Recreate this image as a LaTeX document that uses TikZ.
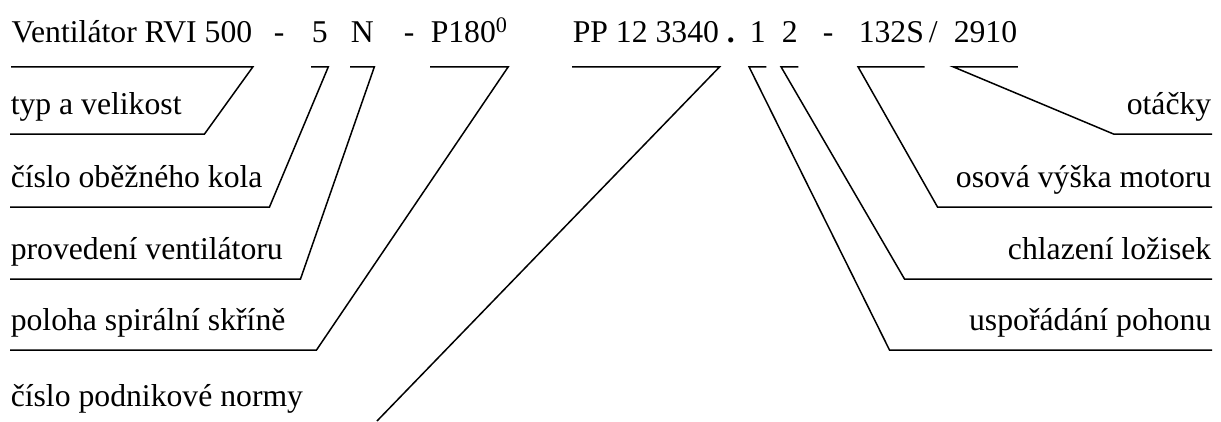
\documentclass[tikz,border=0pt]{standalone}
\usepackage{fontspec}
\setmainfont{Liberation Serif}
\begin{document}
\begin{tikzpicture}[x=1pt, y=-1pt, line width=1.5pt,
		every node/.style={font=\fontsize{31.7}{38}\selectfont},
		code/.style={anchor=base west, inner sep=0pt, text depth=24pt},
		leftLabel/.style={anchor=south west, inner sep=0pt, text depth=19pt, align=flush left},
		rightLabel/.style={anchor=south east, inner sep=0pt, text depth=19pt, align=flush right}]
		\useasboundingbox (0,0) rectangle (1221,421);

		% type code
		\node[code](vent) at (11,42){Ventilátor RVI 500};
		\node[code](dashA) at (273,42){-};
		\node[code](wheel) at (311,42){5};
		\node[code](design) at (350,42){N};
		\node[code](dashB) at (403,42){-};
		\node[code](casing) at (430,42){P180\textsuperscript{0}};
		\node[code](norm) at (572,42){PP 12 3340};
		\node[code](dot) at (726,42){\textbf{.}};
		\node[code](drive) at (749,42){1};
		\node[code](cooling) at (781,42){2};
		\node[code](dashC) at (822,42){-};
		\node[code](axis) at (858,42){132S};
		\node[code](slash) at (928,42){/};
		\node[code](speed) at (953,42){2910};

		% left labels
		\node[leftLabel, text width=193pt](typLbl) at (10,134){typ a velikost};
		\node[leftLabel, text width=258pt](wheelLbl) at (10,207){číslo oběžného kola};
		\node[leftLabel, text width=289pt](designLbl) at (10,279){provedení ventilátoru};
		\node[leftLabel, text width=305pt](casingLbl) at (10,350){poloha spirální skříně};
		\node[anchor=base west, inner sep=0pt](normLbl) at (10,406){číslo podnikové normy};
		\coordinate (normEnd) at (377,421);

		% right labels
		\node[rightLabel, text width=97pt](speedLbl) at (1212,134){otáčky};
		\node[rightLabel, text width=273pt](axisLbl) at (1212,207){osová výška motoru};
		\node[rightLabel, text width=306pt](coolingLbl) at (1212,279){chlazení ložisek\hspace*{9pt}};
		\node[rightLabel, text width=321pt](driveLbl) at (1212,350){uspořádání pohonu\hspace*{9pt}};

		% draw left leaders
		\draw (vent.south west) -- (vent.south east) -- (typLbl.south east) -- (typLbl.south west);
		\draw (wheel.south west) -- (wheel.south east) -- (wheelLbl.south east) -- (wheelLbl.south west);
		\draw (design.south west) -- (design.south east) -- (designLbl.south east) -- (designLbl.south west);
		\draw (casing.south west) -- (casing.south east) -- (casingLbl.south east) -- (casingLbl.south west);
		\draw (norm.south west) -- (norm.south east) -- (normEnd);

		% draw right leaders
		\draw (drive.south east) -- (drive.south west) -- (driveLbl.south west) -- (driveLbl.south east);
		\draw (cooling.south east) -- (cooling.south west) -- (coolingLbl.south west) -- (coolingLbl.south east);
		\draw (axis.south east) -- (axis.south west) -- (axisLbl.south west) -- (axisLbl.south east);
		\draw (speed.south east) -- (speed.south west) -- (speedLbl.south west) -- (speedLbl.south east);
	\end{tikzpicture}
\end{document}
